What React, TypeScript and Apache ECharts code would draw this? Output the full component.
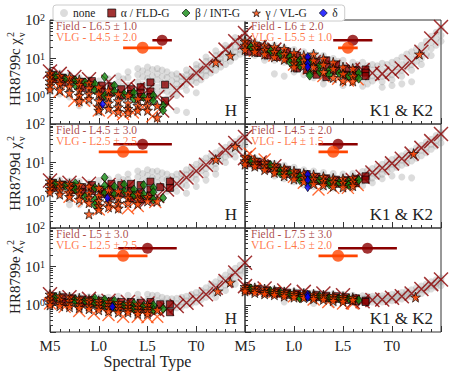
import React, { useEffect, useRef } from "react";
import * as echarts from "echarts";

type Col = [number, number[]];

const FONT = "Liberation Serif";

const spectralTicks = [15, 20, 25, 30, 35];
const spectralTickLabels = ["M5", "L0", "L5", "T0", ""];
const targets = ["HR8799c", "HR8799d", "HR8799e"];
const bands = ["H", "K1 & K2"];
const legendNames = ["none", "α / FLD-G", "β / INT-G", "γ / VL-G", "δ"];

// panel order: c-H, c-K, d-H, d-K, e-H, e-K
const fieldSpt = [26.5, 26, 24.5, 24.5, 25, 27.5];
const fieldErr = [1.0, 2.0, 3.0, 2.0, 3.0, 3.0];
const vlgSpt = [24.5, 25.5, 22.5, 24, 22.5, 24.5];
const vlgErr = [2.0, 1.0, 2.5, 1.5, 2.5, 2.0];
const fieldMarkerChi = 30;
const vlgMarkerChi = 19;

// ---------- HR8799c H ----------
const gray0: Col[] = [[15,[4.8,3.6,2.2,1.4]],[16,[4.2,3.0,1.2]],[17,[3.8,2.6,1.0]],[18,[3.2,1.8,0.9,0.6]],[19,[2.9,1.4,0.7]],[20,[2.6,1.6,0.6,0.4]],[21,[3.0,2.2,0.9,0.5]],[22,[3.5,2.4,1.6,0.7,0.45]],[22.5,[3.0,1.9,0.9]],[23,[4.5,3.2,2.0,1.1,0.5]],[24,[5.5,3.8,2.5,1.6,0.8,0.5]],[24.5,[4.8,3.3,2.1,1.0]],[25,[6.0,4.2,3.0,2.0,1.4,0.7]],[25.5,[5.2,3.5,2.4,1.5]],[26,[5.5,4.0,2.8,1.8,1.2,0.6]],[26.5,[5.0,3.4,2.3,1.5]],[27,[4.5,3.2,2.2,1.4,0.9]],[27.5,[3.8,2.6,1.8,1.2]],[28,[4.0,3.0,2.2,1.6,1.1,0.45]],[28.5,[3.4,2.6,1.9]],[29,[5.0,3.8,2.8,2.2,1.5,0.4]],[29.5,[4.5,3.4,2.6]],[30,[7.0,5.5,4.2,3.2,2.4,1.3]],[30.5,[6.5,5.0,3.8,2.8]],[31,[11,8.5,6.2,4.8,3.6]],[31.5,[9,7,5.5,4.2]],[32,[16,12,9,7,5]],[32.5,[13,10,8,6]],[33,[22,18,14,10,7]],[33.5,[20,15,12,8.5]],[34,[35,28,20,15,11]],[34.5,[30,23,17,13]],[35,[50,38,28]]];
const xField0: Col[] = [[15,[4.6]],[16,[4.0]],[17.5,[3.3]],[19,[2.9]],[21,[2.5]],[23,[1.9]],[24,[1.6]],[25,[1.5]],[26,[1.0]],[26.5,[0.45]],[27,[0.7]],[28,[1.5]],[29,[2.7]],[30,[4.2]],[31,[6.5]],[32,[10]],[33,[17]],[34,[28]],[35,[46]]];
const xVlg0: Col[] = [[15.5,[2.6]],[16,[1.4]],[17.5,[0.8]],[18.5,[0.8]],[20,[0.45]],[21.5,[0.4]],[22.5,[0.36]],[23.5,[0.4]],[24.5,[0.55]],[25.5,[0.32]]];
const alpha0: Col[] = [[15.3,[3.8,2.9]],[16.3,[3.2,2.4]],[17.3,[2.8]],[18.3,[2.5,1.7]],[19.3,[2.6,1.9]],[20.3,[2.0,1.4,1.0]],[21.3,[1.9,1.3]],[22.3,[1.6,1.1]],[23.3,[1.6,1.2]],[24.3,[1.8,1.3,1.0]],[25.3,[2.4,1.4,1.0]],[26.8,[2.1,0.8]]];
const beta0: Col[] = [[15.6,[3.5]],[16.6,[3.0]],[17.6,[2.7,2.0]],[18.6,[2.4]],[19.6,[2.2,1.5]],[20.6,[3.3,1.1]],[21.6,[2.0,1.4]],[22.6,[1.2]],[23.6,[1.3,0.9]],[24.6,[1.0]],[25.6,[1.1,0.8]],[26.6,[0.6,0.45]]];
const gamma0: Col[] = [[15,[4.2,3.3,2.6,2.0,1.6]],[16,[3.6,2.8,2.2,1.5]],[17,[3.3,2.4,1.9,1.3]],[18,[2.8,2.1,1.5,1.1,0.8]],[19,[2.3,1.7,1.2,0.9]],[20,[1.8,1.2,0.8,0.55,0.45]],[21,[1.5,1.0,0.7,0.5]],[22,[1.2,0.8,0.55,0.42]],[23,[1.1,0.7,0.5,0.4]],[24,[0.9,0.6,0.45]],[25,[0.9,0.6,0.45]],[26,[0.6,0.3]],[32,[8]],[33.5,[12]]];
const delta0: Col[] = [[20.4,[0.65]]];

// ---------- HR8799c K1 & K2 ----------
const gray1: Col[] = [[15,[30,20,14]],[16,[27,18,12]],[17,[24,16,11,9]],[18,[22,14,9,4]],[19,[19,12,8,3.5]],[20,[17,11,7,4.5]],[21,[15,10,6,3.8]],[22,[14,9,5.5,3.2]],[22.5,[11,7,4.2]],[23,[12,8,5,3,2.2]],[24,[10,7,4.5,2.8]],[24.5,[8.5,5.8,3.6]],[25,[9,6.5,4,2.6,2]],[26,[8,6,3.8,2.5]],[26.5,[7,4.8,3.2]],[27,[8,5.5,4,2.8,1.9]],[27.5,[6.5,4.6,3.2,2.2]],[28,[7,5,3.6,2.6]],[28.5,[6.5,4.6,3.2]],[29,[7.5,5,3.5,2.5,1.8]],[29.5,[7,4.8,3.4]],[30,[8,5.5,3.8,2.8,2]],[30.5,[9,6.2,4.4]],[31,[11,7,5,3.5,2.2]],[31.5,[13,8.5,6]],[32,[15,10,7,5,2.5]],[32.5,[18,12,8.5]],[33,[22,15,10,7]],[33.5,[28,19,13]],[34,[38,26,18,12]],[34.5,[48,32,22]],[35,[60,40,28]]];
const xField1: Col[] = [[15,[26]],[16.5,[20]],[18,[17]],[20,[12]],[22,[8]],[24,[6]],[26,[5.2]],[27,[5]],[28,[4.2]],[29,[4]],[30,[4.6]],[31,[5.5]],[32,[8]],[33,[15]],[34,[33]],[35,[66]]];
const xVlg1: Col[] = [[16,[16]],[18,[12]],[20,[7]],[21.5,[5.5]],[23,[3.5]],[24.5,[3.0]],[25.5,[2.7]],[26.5,[2.9]]];
const alpha1: Col[] = [[15.3,[24,15]],[16.3,[21,14]],[17.3,[18,12]],[18.3,[16,11]],[19.3,[15,10]],[20.3,[12,8,5.5]],[21.3,[10,7,5]],[22.3,[8,5,3.8]],[23.3,[9,6,3.3]],[24.3,[7,4.8]],[25.3,[5.5,3.8]],[26.3,[5,3.7]],[27.3,[5.2,4.3,3.5]]];
const beta1: Col[] = [[15.6,[20]],[17.6,[16]],[18.6,[13]],[19.6,[11,8]],[20.6,[9,6.5]],[21.6,[8,4,3.6]],[22.6,[6.5,4.5]],[23.6,[5,3.8]],[24.6,[4.2]],[25.6,[3.5]],[26.6,[4.2,3]]];
const gamma1: Col[] = [[15,[28,22,17]],[16,[25,19,15]],[17,[22,17,13]],[18,[20,15,11]],[19,[18,13,9.5]],[20,[14,10,7.5,6]],[21,[12,9,6.5]],[22,[13,9,6]],[23,[10,7,4.5]],[24,[8,5.5,3.2]],[25,[6,4,2.7]],[26,[5.5,3.5,2.6]],[32.8,[13]]];
const delta1: Col[] = [[21.4,[11,7.5,6]]];

// ---------- HR8799d H ----------
const gray2: Col[] = [[15,[3.8,2.8,1.8]],[16,[3.5,2.5,1.4]],[17,[3.3,2.0,1.1,0.8]],[18,[3.2,2.2,1.2,0.8]],[19,[3.0,2.0,1.2]],[20,[3.4,2.3,1.3,0.8]],[21,[3.8,2.6,1.6,0.9]],[22,[4.2,3.0,1.8,1.0]],[22.5,[3.6,2.4,1.4]],[23,[5,3.6,2.4,1.4]],[24,[6,4.2,2.8,1.8,1.1]],[24.5,[5.2,3.5,2.2]],[25,[6.5,4.6,3.2,2,1.2]],[25.5,[5.8,4,2.6,1.6]],[26,[6,4.3,3,2,1.3]],[26.5,[5.4,3.7,2.4]],[27,[5,3.6,2.6,1.8]],[27.5,[4.4,3.1,2.1]],[28,[5,3.6,2.6,1.8]],[28.5,[5.2,3.8,2.6]],[29,[6.5,4.8,3.6,2.5,1.6]],[29.5,[7.5,5.5,4]],[30,[9,6.5,5,3.6,2.4]],[30.5,[11,8,6]],[31,[13,9.5,7,5,3.5]],[31.5,[15,11,8]],[32,[18,13,9.5,7,5]],[32.5,[21,16,12]],[33,[25,19,14,10]],[33.5,[30,22,16]],[34,[35,27,20,14]],[34.5,[42,30,22]],[35,[50,38,28]]];
const xField2: Col[] = [[15,[3.4]],[17,[3.0]],[19,[2.8]],[21,[2.6]],[23,[2.4]],[24,[1.6]],[25,[1.1]],[26,[1.35]],[27,[2.0]],[28,[2.8]],[29,[4.1]],[30,[6]],[31,[8.8]],[32,[13.5]],[33,[21]],[34,[32]],[35,[46]]];
const xVlg2: Col[] = [[15.5,[2.2]],[17,[1.3]],[18.5,[1.0]],[20,[0.6]],[21.5,[0.7]],[23,[0.65]],[24,[0.75]],[25.8,[0.95]]];
const alpha2: Col[] = [[15.3,[3.0,2.2]],[16.3,[2.7]],[17.3,[2.5,1.9]],[18.3,[2.3,1.7]],[19.3,[2.6,1.8]],[20.3,[2.0,1.5]],[21.3,[2.8,2.0,1.3]],[22.3,[2.6,1.6]],[23.3,[2.8,1.8,1.2]],[24.3,[2.6,1.6,1.1]],[25.3,[3.2,2.0,1.4]],[26.3,[2.3]],[27.3,[3.2,2.2]]];
const beta2: Col[] = [[15.6,[2.8]],[16.6,[2.5]],[17.6,[2.9,2.0]],[18.6,[1.3]],[19.6,[2.2,1.1,0.8]],[20.6,[4.1,2.5,1.6]],[21.6,[2.4,1.5]],[22.6,[2.7,1.8]],[23.6,[2.0,1.4]],[24.6,[2.6,1.5]],[25.6,[2.2,1.7,1.1]],[26.6,[1.2]]];
const gamma2: Col[] = [[15,[3.3,2.6,2.1,1.7]],[16,[3.0,2.4,1.9,1.5]],[17,[2.8,2.2,1.7,1.3]],[18,[2.6,1.9,1.5,1.1]],[19,[2.4,1.6,1.2,0.9,0.46]],[20,[2.2,1.4,1.0,0.75,0.6]],[21,[1.9,1.3,0.9,0.7]],[22,[1.8,1.2,0.85,0.65]],[23,[1.6,1.2,0.9]],[24,[1.5,1.1,0.85]],[25,[1.3,1.0]],[26,[1.0]],[32,[12]],[34,[26]]];
const delta2: Col[] = [[20.9,[1.2]]];

// ---------- HR8799d K1 & K2 ----------
const gray3: Col[] = [[15,[15,11,8]],[16,[13,10,7.5]],[17,[11,8.5,6.5]],[18,[9.5,7.5,5.5,4.5]],[19,[8.5,6.5,5,3.8]],[20,[7.5,5.5,4.2,3.2]],[21,[6.5,5,3.8,2.6]],[22,[6,4.5,3.4,2.4]],[23,[5.5,4.2,3.2,2.3]],[24,[5.2,4,3,2.2]],[25,[5,3.8,2.9,2.1]],[26,[5.2,4,3,2.2]],[27,[5.8,4.4,3.3,2.5]],[27.5,[6.3,4.8,3.6]],[28,[7,5.3,4,3]],[28.5,[8,6,4.4]],[29,[9,6.8,5,3.8]],[29.5,[10.5,7.8,5.8]],[30,[12,9,6.8,4.5]],[30.5,[13.5,10,7.5]],[31,[15,11.5,8.5,4.2]],[31.5,[17.5,13,9.5]],[32,[20,15,11,4]],[32.5,[24,18,13]],[33,[28,21,15]],[33.5,[34,25,18]],[34,[40,30,22]],[34.5,[50,37,27]],[35,[60,45,32]]];
const xField3: Col[] = [[15,[13]],[16.5,[10]],[18,[8]],[26,[3.5]],[27,[4.3]],[28,[5.5]],[29,[7.2]],[30,[9.5]],[31,[12.5]],[32,[17]],[33,[24]],[34,[36]],[35,[55]]];
const xVlg3: Col[] = [[15.5,[17]],[17,[12]],[18.5,[6]],[20,[4.3]],[21,[3]],[22.5,[2.0]],[24,[2.2]],[25.5,[2.2]],[26.5,[2.6]]];
const alpha3: Col[] = [[15.3,[12,9.5]],[16.3,[10.5,8.5]],[17.3,[9,7]],[18.3,[7.5,6]],[19.3,[6.5,5]],[20.3,[5.5,4.2]],[21.3,[5,3.8]],[22.3,[4.3,3.3]],[23.3,[3.9,3.0]],[24.3,[3.6,2.8]],[25.3,[3.5,2.7]],[26.3,[3.8,2.9]],[27.3,[4.4,3.6]]];
const beta3: Col[] = [[15.6,[11]],[17.6,[8.5]],[18.6,[6.5,5.2]],[19.6,[5.5]],[20.6,[4.5,3.5]],[21.6,[4,3]],[22.6,[3.6]],[23.6,[3.3,2.7]],[24.6,[3.0]],[25.6,[3.2,2.6]],[26.6,[3.5]]];
const gamma3: Col[] = [[15,[14,11,9]],[16,[12,9.5,8]],[17,[10,8,6.5]],[18,[8.5,6.8,5.5]],[19,[7,5.5,4.5]],[20,[6,4.7,3.7]],[21,[5.2,4,3.2]],[22,[4.8,3.7,2.8]],[23,[4.3,3.4,2.6]],[24,[3.9,3.1,2.4]],[25,[3.8,3.0,2.3]],[26,[4,3.2,2.5]],[32.2,[17]]];
const delta3: Col[] = [[21.4,[4.9,3.5,2.3]]];

// ---------- HR8799e H ----------
const gray4: Col[] = [[15,[2.0,1.6,1.2]],[16,[1.9,1.5,1.1]],[17,[1.8,1.4,1.0]],[18,[1.7,1.3,0.95]],[19,[1.65,1.25,0.9]],[20,[1.6,1.2,0.85]],[21,[1.6,1.2,0.85]],[22,[1.7,1.25,0.9]],[23,[1.8,1.3,0.9]],[24,[1.9,1.35,0.95]],[25,[1.9,1.4,1.0,0.7]],[25.5,[1.8,1.3,0.95]],[26,[1.8,1.3,0.95,0.7]],[26.5,[1.6,1.2,0.9]],[27,[1.5,1.15,0.85]],[27.5,[1.45,1.1,0.8]],[28,[1.5,1.1,0.85]],[28.5,[1.6,1.2,0.9]],[29,[1.7,1.3,1.0]],[29.5,[1.9,1.45,1.1]],[30,[2.1,1.6,1.2]],[30.5,[2.4,1.8,1.4]],[31,[2.8,2.1,1.6]],[31.5,[3.4,2.5,1.9]],[32,[4,3,2.2,1.6]],[32.5,[5,3.7,2.7]],[33,[6,4.5,3.3,2.4]],[33.5,[7.5,5.5,4]],[34,[9,7,5,3.5]],[34.5,[11,8,6]],[35,[13,10,7.5]]];
const xField4: Col[] = [[15,[1.9]],[17,[1.6]],[19,[1.45]],[21,[1.3]],[23,[1.2]],[25,[1.1]],[26,[0.75]],[27,[0.8]],[28,[0.95]],[29,[1.15]],[30,[1.4]],[31,[1.9]],[32,[2.8]],[33,[4.2]],[34,[7]],[35,[12.5]]];
const xVlg4: Col[] = [[15,[1.1]],[16.5,[0.9]],[18,[0.7]],[19.5,[0.6]],[21,[0.55]],[22.5,[0.5]],[24,[0.5]],[25,[0.48]],[26,[0.5]]];
const alpha4: Col[] = [[15.3,[1.7,1.3]],[16.3,[1.6,1.2]],[17.3,[1.5]],[18.3,[1.4,1.15]],[19.3,[1.35,1.1]],[20.3,[1.3,1.0]],[21.3,[1.25,0.95]],[22.3,[1.2,0.9]],[23.3,[1.2,0.85]],[24.3,[1.15,0.85]],[25.3,[1.2,0.9]],[26.3,[1.05]],[27.3,[1.05,0.65]]];
const beta4: Col[] = [[15.6,[1.6]],[17.6,[1.4,1.2]],[18.6,[1.3]],[19.6,[1.5,1.1]],[20.6,[1.4,1.0]],[21.6,[1.3,0.9]],[22.6,[1.0]],[23.6,[1.1,0.8]],[24.6,[0.95]],[25.6,[1.0,0.75]],[26.6,[0.8]]];
const gamma4: Col[] = [[15,[1.9,1.5,1.2,1.0]],[16,[1.7,1.4,1.1,0.95]],[17,[1.6,1.3,1.05,0.9]],[18,[1.5,1.25,1.0,0.85]],[19,[1.4,1.2,0.95,0.8]],[20,[1.3,1.1,0.9,0.75]],[21,[1.2,1.0,0.85,0.7]],[22,[1.15,0.95,0.8,0.65]],[23,[1.1,0.9,0.75,0.65]],[24,[1.05,0.85,0.7,0.6]],[25,[1.0,0.8,0.7,0.6]],[26,[0.75]],[32.2,[2.3]],[33.5,[3.9]]];
const delta4: Col[] = [[21.4,[0.9]]];

// ---------- HR8799e K1 & K2 ----------
const gray5: Col[] = [[15,[3.2,2.7,2.2]],[16,[3.0,2.5,2.0]],[17,[2.8,2.3,1.9]],[18,[2.6,2.2,1.8]],[19,[2.4,2.0,1.7,1.2]],[20,[2.3,1.9,1.6]],[21,[2.2,1.85,1.5]],[22,[2.1,1.75,1.45,1.1]],[23,[2.0,1.7,1.4]],[24,[1.95,1.6,1.3,1.05]],[25,[1.9,1.55,1.3]],[26,[1.8,1.5,1.25]],[27,[1.75,1.45,1.2]],[27.5,[1.7,1.4,1.15]],[28,[1.7,1.45,1.2]],[28.5,[1.7,1.45,1.2]],[29,[1.75,1.45,1.2]],[29.5,[1.8,1.5,1.25]],[30,[1.9,1.55,1.3]],[30.5,[2.0,1.65,1.35]],[31,[2.1,1.75,1.45]],[31.5,[2.3,1.9,1.55]],[32,[2.5,2.0,1.65]],[32.5,[2.8,2.2,1.8]],[33,[3.1,2.5,2.0]],[33.5,[3.5,2.8,2.3]],[34,[4,3.2,2.6]],[34.5,[4.5,3.6,2.9]],[35,[5,4,3.2]]];
const xField5: Col[] = [[15,[3.1]],[17,[2.7]],[19,[2.4]],[21,[2.2]],[23,[2.0]],[25,[1.8]],[26,[1.2]],[27,[1.25]],[28,[1.35]],[29,[1.4]],[30,[1.55]],[31,[1.7]],[32,[2.0]],[33,[2.6]],[34,[3.5]],[35,[4.6]]];
const xVlg5: Col[] = [[16,[2.6]],[18,[2.2]],[20,[1.7]],[22,[1.4]],[23.5,[1.2]],[25,[1.1]],[26,[1.1]]];
const alpha5: Col[] = [[15.3,[2.8,2.4]],[16.3,[2.6]],[17.3,[2.4,2.1]],[18.3,[2.3,2.0]],[19.3,[2.1,1.85]],[20.3,[2.0,1.75]],[21.3,[1.9,1.65]],[22.3,[1.85,1.6]],[23.3,[1.75,1.5]],[24.3,[1.7,1.45]],[25.3,[1.6,1.35]],[26.3,[1.5,1.25]],[27.3,[1.3,1.2]]];
const beta5: Col[] = [[15.6,[2.7]],[17.6,[2.3]],[18.6,[2.1]],[19.6,[1.9]],[20.6,[1.6,1.5]],[21.6,[1.7]],[22.6,[1.7]],[23.6,[1.55]],[24.6,[1.5]],[25.6,[1.45]],[26.6,[1.35]]];
const gamma5: Col[] = [[15,[3.0,2.6,2.3]],[16,[2.8,2.4,2.1]],[17,[2.6,2.2,1.95]],[18,[2.4,2.1,1.85]],[19,[2.2,1.95,1.7]],[20,[2.1,1.85,1.6]],[21,[2.0,1.75,1.55]],[22,[1.9,1.65,1.45]],[23,[1.8,1.6,1.4]],[24,[1.75,1.5,1.3]],[25,[1.65,1.45,1.25]],[26,[1.55,1.35]],[32.4,[1.6]]];
const delta5: Col[] = [[21.4,[1.85,1.6]]];

const panelData = [
  { gray: gray0, xf: xField0, xv: xVlg0, a: alpha0, b: beta0, g: gamma0, d: delta0 },
  { gray: gray1, xf: xField1, xv: xVlg1, a: alpha1, b: beta1, g: gamma1, d: delta1 },
  { gray: gray2, xf: xField2, xv: xVlg2, a: alpha2, b: beta2, g: gamma2, d: delta2 },
  { gray: gray3, xf: xField3, xv: xVlg3, a: alpha3, b: beta3, g: gamma3, d: delta3 },
  { gray: gray4, xf: xField4, xv: xVlg4, a: alpha4, b: beta4, g: gamma4, d: delta4 },
  { gray: gray5, xf: xField5, xv: xVlg5, a: alpha5, b: beta5, g: gamma5, d: delta5 },
];

const flat = (cols: Col[]) => cols.flatMap(([x, vs]) => vs.map((v) => [x, v]));

const sptName = (s: number) => {
  if (s < 20) return "M" + String(s - 10);
  if (s < 30) return "L" + String(s - 20);
  return "T" + String(s - 30);
};

const DARKRED = "#8b0000";
const ORANGE = "#ff4500";
const GREEN = "#138a13";
const BLUE = "#0000ff";
const GRAY = "rgba(120,120,120,0.33)";
const XPATH = "path://M0,0L10,10M10,0L0,10";
const STAR = "path://M50,0L61,35L98,35L68,57L79,91L50,70L21,91L32,57L2,35L39,35Z";

const gridLefts = [50, 245];
const gridWidths = [195, 196];
const gridTops = [20, 124, 228];
const gridH = 104;

function buildOption() {
  const grids: any[] = [];
  const xAxes: any[] = [];
  const yAxes: any[] = [];
  const series: any[] = [];
  const graphics: any[] = [];

  panelData.forEach((p, i) => {
    const row = Math.floor(i / 2);
    const col = i % 2;
    const left = gridLefts[col];
    const top = gridTops[row];
    const w = gridWidths[col];
    grids.push({
      left, top, width: w, height: gridH, show: true,
      borderColor: "#333", borderWidth: 1, backgroundColor: "transparent",
    });
    xAxes.push({
      gridIndex: i, type: "value", min: spectralTicks[0], max: spectralTicks[spectralTicks.length - 1], interval: 5,
      axisLine: { show: false },
      axisTick: { show: true, inside: true, length: 6, lineStyle: { color: "#333" } },
      minorTick: { show: true, splitNumber: 5, length: 3, lineStyle: { color: "#333" } },
      splitLine: { show: false },
      axisLabel: {
        show: row === 2, margin: 6, color: "#222", fontFamily: FONT, fontSize: 15,
        formatter: (v: number) => {
          const k = spectralTicks.indexOf(Math.round(v));
          return k >= 0 ? spectralTickLabels[k] : "";
        },
      },
      name: row === 2 && col === 0 ? "Spectral Type" : "",
      nameLocation: "middle", nameGap: 17,
      nameTextStyle: { fontFamily: FONT, fontSize: 16, color: "#222" },
    });
    yAxes.push({
      gridIndex: i, type: "log", logBase: 10, min: 0.2, max: 100,
      axisLine: { show: false },
      axisTick: { show: true, inside: true, length: 6, lineStyle: { color: "#333" } },
      minorTick: { show: true, splitNumber: 9, length: 3, lineStyle: { color: "#333" } },
      splitLine: { show: false },
      axisLabel: {
        show: col === 0, margin: 5, showMinLabel: false,
        formatter: (v: number) => {
          const l = Math.log10(v);
          const e = Math.round(l);
          return Math.abs(l - e) < 1e-6 ? `{b|10}{s|${e}}` : "";
        },
        rich: {
          b: { fontFamily: FONT, fontSize: 15, color: "#222", lineHeight: 15, padding: [6, 0, 0, 0], verticalAlign: "bottom" },
          s: { fontFamily: FONT, fontSize: 10, color: "#222", lineHeight: 10, verticalAlign: "top" },
        },
      },
    });

    const base = { xAxisIndex: i, yAxisIndex: i, silent: true };
    series.push({
      ...base, type: "scatter", name: legendNames[0], data: flat(p.gray), symbol: "circle", symbolSize: 7,
      itemStyle: { color: GRAY },
    });
    series.push({
      ...base, type: "scatter", name: "field templates", data: flat(p.xf), symbol: XPATH, symbolSize: 14,
      itemStyle: { color: "rgba(0,0,0,0)", borderColor: DARKRED, borderWidth: 1.5 },
    });
    series.push({
      ...base, type: "scatter", name: "vlg templates", data: flat(p.xv), symbol: XPATH, symbolSize: 12,
      itemStyle: { color: "rgba(0,0,0,0)", borderColor: ORANGE, borderWidth: 1.4 },
    });
    series.push({
      ...base, type: "scatter", name: legendNames[1], data: flat(p.a), symbol: "rect", symbolSize: 7,
      itemStyle: { color: DARKRED, borderColor: "#000", borderWidth: 0.8 },
    });
    series.push({
      ...base, type: "scatter", name: legendNames[2], data: flat(p.b), symbol: "diamond", symbolSize: [7, 9],
      itemStyle: { color: GREEN, borderColor: "#000", borderWidth: 0.8 },
    });
    series.push({
      ...base, type: "scatter", name: legendNames[3], data: flat(p.g), symbol: STAR, symbolSize: 10,
      itemStyle: { color: ORANGE, borderColor: "#000", borderWidth: 0.8 },
    });
    series.push({
      ...base, type: "scatter", name: legendNames[4], data: flat(p.d), symbol: "diamond", symbolSize: [6, 9],
      itemStyle: { color: BLUE, borderColor: "#000", borderWidth: 0.8 },
    });
    series.push({
      ...base, type: "line", name: "field fit bar", symbol: "none",
      data: [[fieldSpt[i] - fieldErr[i], fieldMarkerChi], [fieldSpt[i] + fieldErr[i], fieldMarkerChi]],
      lineStyle: { color: DARKRED, width: 2.5 },
    });
    series.push({
      ...base, type: "scatter", name: "field fit", symbol: "circle", symbolSize: 11,
      data: [[fieldSpt[i], fieldMarkerChi]], itemStyle: { color: DARKRED },
    });
    series.push({
      ...base, type: "line", name: "vlg fit bar", symbol: "none",
      data: [[vlgSpt[i] - vlgErr[i], vlgMarkerChi], [vlgSpt[i] + vlgErr[i], vlgMarkerChi]],
      lineStyle: { color: ORANGE, width: 2.8 },
    });
    series.push({
      ...base, type: "scatter", name: "vlg fit", symbol: "circle", symbolSize: 12,
      data: [[vlgSpt[i], vlgMarkerChi]], itemStyle: { color: ORANGE },
    });

    graphics.push({
      type: "text", x: left + 6, y: top + 6, z: 50,
      style: {
        text: `Field - ${sptName(fieldSpt[i])} ± ${fieldErr[i].toFixed(1)}`,
        fill: "rgba(139,0,0,0.72)", font: `11.5px "${FONT}"`, textVerticalAlign: "middle",
      },
    });
    graphics.push({
      type: "text", x: left + 6, y: top + 17, z: 50,
      style: {
        text: `VLG - ${sptName(vlgSpt[i])} ± ${vlgErr[i].toFixed(1)}`,
        fill: "rgba(255,69,0,0.72)", font: `11.5px "${FONT}"`, textVerticalAlign: "middle",
      },
    });
    graphics.push({
      type: "text", x: left + w - 8, y: top + gridH - 5, z: 50,
      style: {
        text: bands[col], fill: "#222", font: `17px "${FONT}"`,
        textAlign: "right", textVerticalAlign: "bottom",
      },
    });
    if (col === 0) {
      graphics.push({
        type: "group", x: 15, y: top + 52, rotation: Math.PI / 2, z: 50,
        children: [
          { type: "text", x: 34, y: 0, style: { text: `${targets[row]} χ`, fill: "#222", font: `15px "${FONT}"`, textAlign: "right", textVerticalAlign: "middle" } },
          { type: "text", x: 35, y: -5, style: { text: "2", fill: "#222", font: `10px "${FONT}"`, textAlign: "left", textVerticalAlign: "middle" } },
          { type: "text", x: 35, y: 6, style: { text: "ν", fill: "#222", font: `10px "${FONT}"`, textAlign: "left", textVerticalAlign: "middle" } },
        ],
      });
    }
  });

  const legendStyles = [
    { color: GRAY },
    { color: DARKRED, borderColor: "#000", borderWidth: 0.8 },
    { color: GREEN, borderColor: "#000", borderWidth: 0.8 },
    { color: ORANGE, borderColor: "#000", borderWidth: 0.8 },
    { color: BLUE, borderColor: "#000", borderWidth: 0.8 },
  ];
  const legendIcons = ["circle", "rect", "diamond", STAR, "diamond"];

  return {
    animation: false,
    backgroundColor: "#fff",
    textStyle: { fontFamily: FONT },
    legend: {
      data: legendNames.map((name, k) => ({ name, icon: legendIcons[k], itemStyle: legendStyles[k] })),
      left: 53, top: 5, itemWidth: 8, itemHeight: 8, itemGap: 12,
      textStyle: { fontFamily: FONT, fontSize: 11.5, color: "#222" },
      padding: [2, 7, 2, 7], borderColor: "#ccc", borderWidth: 1, borderRadius: 3,
      backgroundColor: "#fff", selectedMode: false, z: 60,
    },
    grid: grids, xAxis: xAxes, yAxis: yAxes, series, graphic: graphics,
  };
}

export default function App() {
  const ref = useRef<HTMLDivElement>(null);
  useEffect(() => {
    document.body.style.margin = "0";
    if (!ref.current) return;
    const chart = echarts.init(ref.current, undefined, { renderer: "svg" });
    chart.setOption(buildOption() as any);
    return () => chart.dispose();
  }, []);
  return <div ref={ref} style={{ width: 450, height: 375 }} />;
}
